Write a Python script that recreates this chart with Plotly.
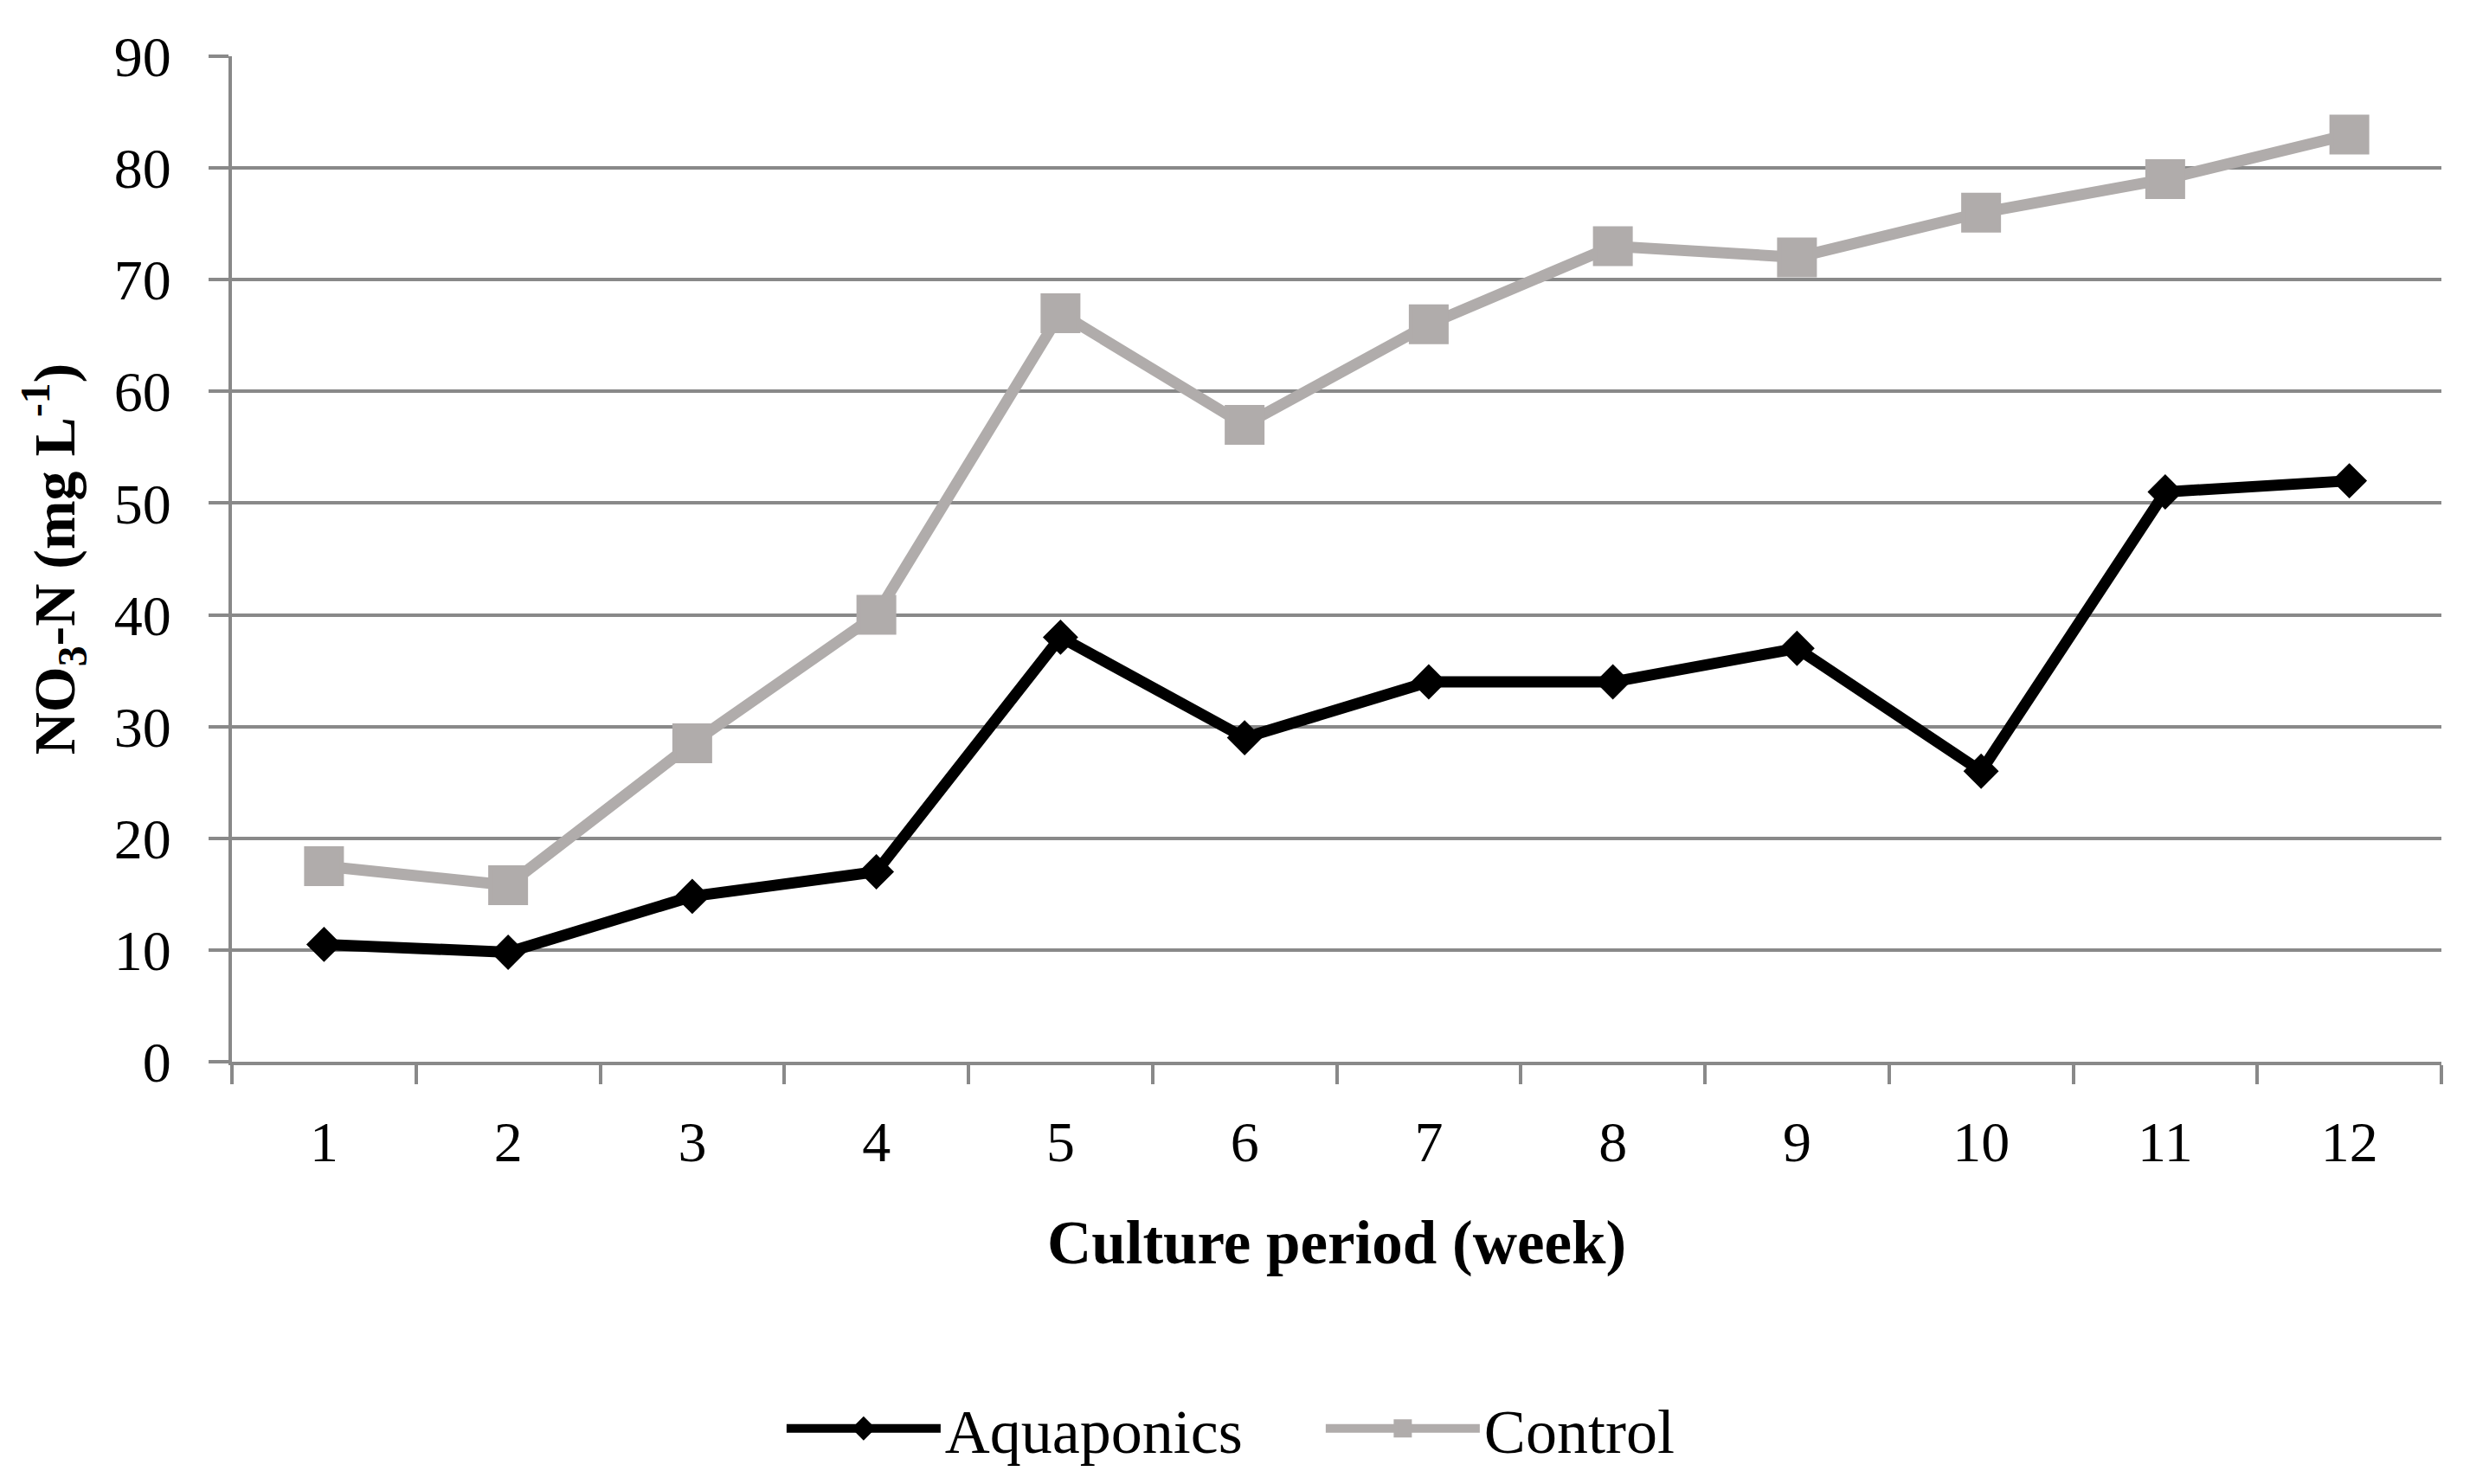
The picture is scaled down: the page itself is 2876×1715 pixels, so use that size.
import plotly.graph_objects as go

weeks = ["1", "2", "3", "4", "5", "6", "7", "8", "9", "10", "11", "12"]
aquaponics = [10.5, 9.8, 14.8, 17.0, 38.0, 29.0, 34.0, 34.0, 37.0, 26.0, 51.0, 52.0]
control = [17.5, 15.8, 28.5, 40.0, 67.0, 57.0, 66.0, 73.0, 72.0, 76.0, 79.0, 83.0]
y_ticks = [0, 10, 20, 30, 40, 50, 60, 70, 80, 90]

FONT = "Liberation Serif"
GRID = "#898989"
CTRL = "#B0ACAB"

fig = go.Figure()
fig.add_trace(go.Scatter(
    x=weeks, y=aquaponics, name="Aquaponics", mode="lines+markers",
    line=dict(color="#000000", width=13),
    marker=dict(symbol="diamond", size=26, color="#000000",
                line=dict(color="#000000", width=5)),
))
fig.add_trace(go.Scatter(
    x=weeks, y=control, name="Control", mode="lines+markers",
    line=dict(color=CTRL, width=13),
    marker=dict(symbol="square", size=41, color=CTRL,
                line=dict(color=CTRL, width=5)),
))

fig.update_layout(
    width=2876, height=1715,
    paper_bgcolor="white", plot_bgcolor="white",
    margin=dict(l=260, r=63, t=57, b=496),
    font=dict(family=FONT, size=66, color="#000000"),
    showlegend=True,
    legend=dict(
        orientation="h", xref="container", yref="container",
        x=0.3115, xanchor="left", y=0.042, yanchor="middle",
        font=dict(family=FONT, size=72), itemwidth=178,
        entrywidth=430, entrywidthmode="pixels",
        traceorder="normal",
    ),
)
fig.update_xaxes(
    type="category", categoryorder="array", categoryarray=weeks,
    range=[-0.5, len(weeks) - 0.5], autorange=False,
    tickson="boundaries", ticks="outside", ticklen=22, tickwidth=4, tickcolor=GRID,
    showgrid=False, showline=True, linecolor=GRID, linewidth=4,
    tickfont=dict(family=FONT, size=66), ticklabelstandoff=32,
    title=dict(text="<b>Culture period (week)</b>", font=dict(family=FONT, size=71), standoff=56),
)
fig.update_yaxes(
    range=[0, 90], tickvals=y_ticks, ticks="outside", ticklen=23, tickwidth=4, tickcolor=GRID,
    showgrid=True, gridcolor=GRID, gridwidth=4, zeroline=False,
    showline=True, linecolor=GRID, linewidth=4,
    tickfont=dict(family=FONT, size=66), ticklabelstandoff=30,
    title=dict(text="<b>NO<sub>3</sub>-N (mg L<sup>-1</sup>)</b>", font=dict(family=FONT, size=68), standoff=24),
)

fig.write_html("out.html")
